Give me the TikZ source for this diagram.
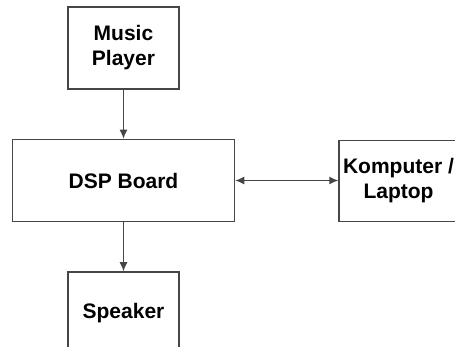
\documentclass[tikz,border=0pt]{standalone}
\usepackage{fontspec}
\setmainfont{Liberation Sans}
\usepackage{xcolor}
\usetikzlibrary{positioning, arrows.meta}
\definecolor{boxline}{RGB}{70,70,70}

\begin{document}
\begin{tikzpicture}[
  box/.style={rectangle, draw=boxline, line width=1.5pt, fill=white, minimum width=111pt, minimum height=82pt, align=center, font=\fontsize{21}{25}\selectfont\bfseries},
  link/.style={draw=boxline, line width=1.2pt},
  tip/.style={-{Latex[length=9pt,width=8pt]}},
  node distance=49pt
]
\useasboundingbox (0,0) rectangle (455pt,-347pt);
\clip (0,0) rectangle (455pt,-347pt);
\node[box] (music) at (123.5pt,-48pt) {Music\\Player};
\node[box, minimum width=222pt, below=of music] (dsp) {DSP Board};
\node[box, below=of dsp] (speaker) {Speaker};
\node[box, minimum width=119pt, minimum height=81pt, inner sep=1pt, right=103pt of dsp, anchor=west, yshift=-0.5pt] (komputer) {Komputer /\\Laptop};

\draw[link, tip] (music) -- (dsp);
\draw[link, tip] (dsp) -- (speaker);
\draw[link, {Latex[length=9pt,width=8pt]}-{Latex[length=9pt,width=8pt]}] (dsp.east) -- (komputer.west |- dsp.east);
\end{tikzpicture}
\end{document}
